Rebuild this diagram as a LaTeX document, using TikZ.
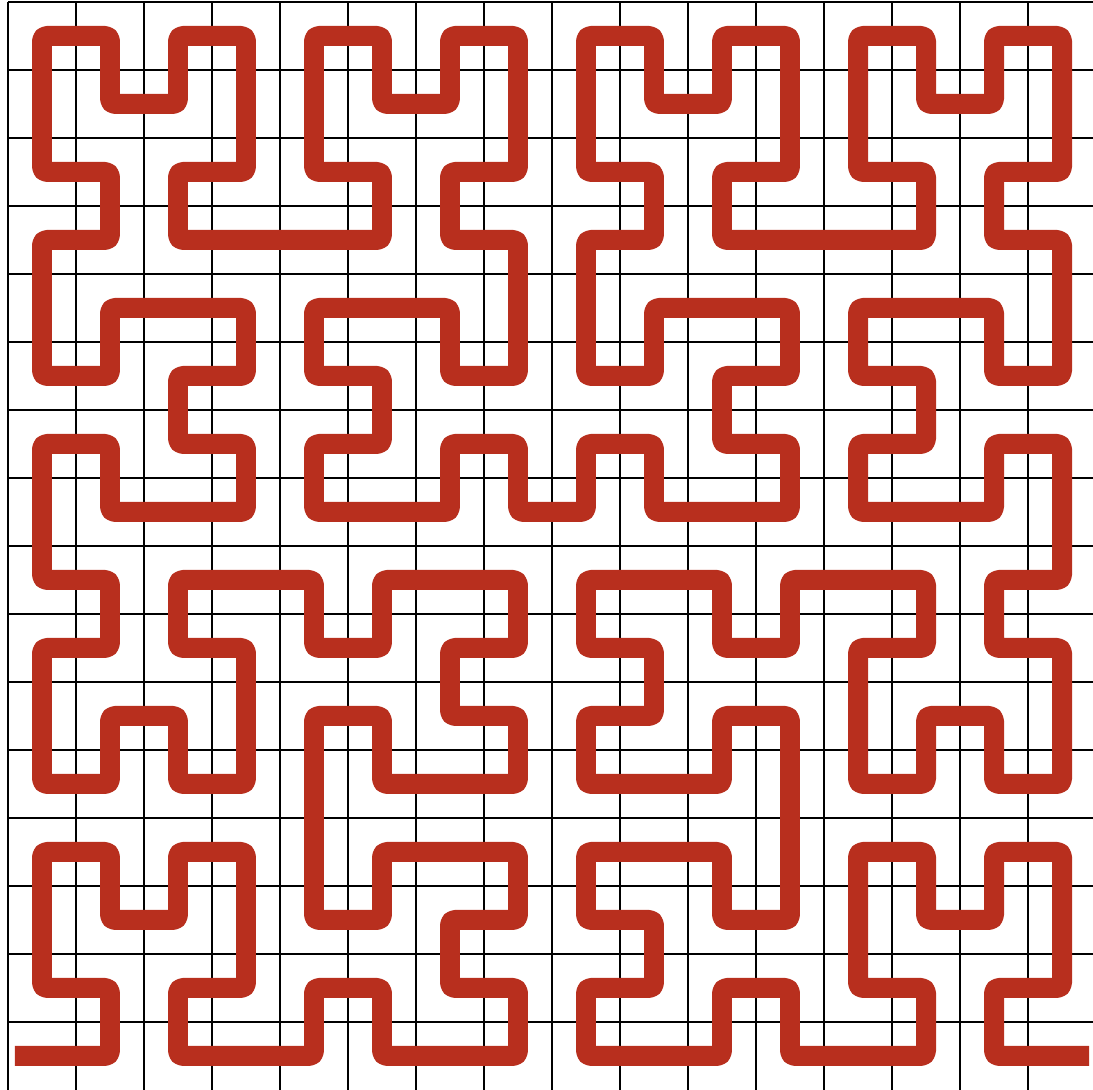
\documentclass[tikz,border=0pt]{standalone}
\definecolor{curvered}{RGB}{184,47,30}
\newcount\hx \newcount\hy \newcount\hcur \newcount\hrx \newcount\hry \newcount\htmp
\def\hstep#1{%
  \hrx=\hcur \divide\hrx by 2 \htmp=\hrx \divide\htmp by 2 \multiply\htmp by 2 \advance\hrx by -\htmp\relax
  \hry=\hcur \advance\hry by \hrx \htmp=\hry \divide\htmp by 2 \multiply\htmp by 2 \advance\hry by -\htmp\relax
  \ifnum\hry=0\relax
    \ifnum\hrx=1\relax
      \hx=\numexpr#1-1-\hx\relax
      \hy=\numexpr#1-1-\hy\relax
    \fi
    \htmp=\hx \hx=\hy \hy=\htmp
  \fi
  \advance\hx by \numexpr#1*\hrx\relax
  \advance\hy by \numexpr#1*\hry\relax
  \divide\hcur by 4\relax
}
\gdef\hpath{}
\begin{document}
\begin{tikzpicture}[x=1cm,y=1cm,
  gridline/.style={black, line width=0.85pt},
  hilbert/.style={curvered, line width=0.294cm, line join=round, line cap=butt, rounded corners=0.07cm}]
\useasboundingbox (-0.1176,0) rectangle (15.956,16.029);
\clip (-0.1176,0) rectangle (15.956,16.029);
\foreach \i in {0,...,15} \draw[gridline] (\i,0) -- (\i,16);
\foreach \j in {1,...,16} \draw[gridline] (0,\j) -- (16,\j);
\foreach \d in {0,...,255}{%
  \hcur=\d\relax \hx=0 \hy=0
  \hstep{1}\hstep{2}\hstep{4}\hstep{8}%
  \xdef\hpath{\hpath -- (\the\hx.5,\the\hy.5)}%
}
\coordinate (startend) at (0.1,0.5);
\coordinate (endend) at (15.9,0.5);
\draw[hilbert] (startend) \hpath -- (endend);
\end{tikzpicture}
\end{document}
